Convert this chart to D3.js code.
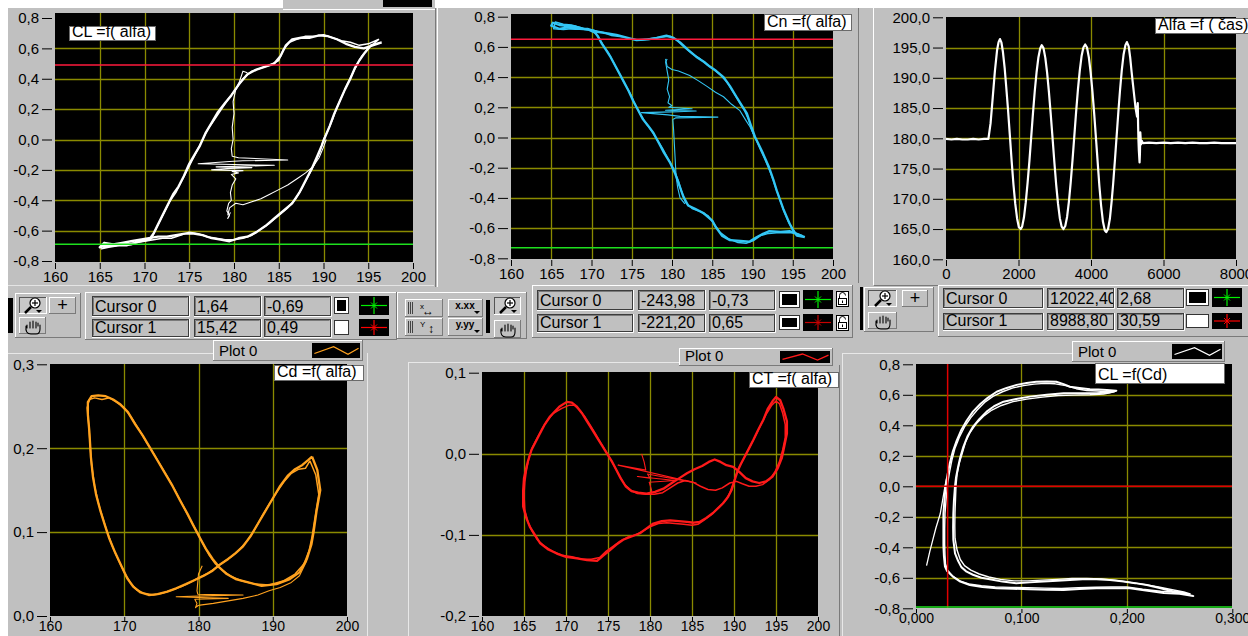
<!DOCTYPE html>
<html><head><meta charset="utf-8">
<script src="https://cdn.jsdelivr.net/npm/d3@7"></script>
<style>
html,body{margin:0;padding:0;background:#fff;overflow:hidden;}
svg text{font-family:"Liberation Sans",Arial,sans-serif;}
</style></head><body><svg id="c" width="1248" height="636"></svg>
<script>
// ---------- tick values ----------
const alfaTicks5 = [160,165,170,175,180,185,190,195,200];
const alfaTicks10 = [160,170,180,190,200];
const clTicks = [-0.8,-0.6,-0.4,-0.2,0,0.2,0.4,0.6,0.8];
const timeTicks = [0,2000,4000,6000,8000];
const alfaValueTicks = [160,165,170,175,180,185,190,195,200];
const cdTicks = [0,0.1,0.2,0.3];
const ctTicks = [-0.2,-0.1,0,0.1];
const cdAxisTicks = [0,0.1,0.2,0.3];

// ---------- cursor read-outs ----------
const cursorNames = ["Cursor 0","Cursor 1"];
const clCursorX = [1.64, 15.42], clCursorY = [-0.69, 0.49];
const cnCursorX = [-243.98, -221.20], cnCursorY = [-0.73, 0.65];
const alfaCursorX = [12022.40, 8988.80], alfaCursorY = [2.68, 30.59];
const clCdCursorX = [0.03], clCdCursorY = [-0.8, 0.0];

// ---------- CL = f(alfa) ----------
const clCycleA = [[196.5,0.64],[195.5,0.62],[194.5,0.60],[193.5,0.61],[192.5,0.63],[191.5,0.66],[190.5,0.68],[189.5,0.685],[188.5,0.67],[187.5,0.67],[186.5,0.66],[185.8,0.62],[185.2,0.55],[184.5,0.50],[183.5,0.48],[182.5,0.46],[181.5,0.43],[180.5,0.36],[179.7,0.29],[179,0.24],[178.2,0.18],[177.5,0.11],[176.8,0.04],[176.2,-0.04],[175.6,-0.10],[175,-0.16],[174.4,-0.24],[173.8,-0.31],[173.2,-0.36],[172.6,-0.43],[172,-0.50],[171.5,-0.56],[171,-0.62],[170.5,-0.66],[169.5,-0.67],[168.5,-0.69],[167.5,-0.69],[166.5,-0.70],[165.5,-0.70],[165,-0.71],[165.5,-0.68],[166.5,-0.69],[167.5,-0.68],[168.5,-0.67],[169.5,-0.66],[170.5,-0.65],[171.5,-0.64],[172.5,-0.64],[173.5,-0.63],[174.5,-0.62],[175.5,-0.62],[176.5,-0.63],[177.5,-0.65],[178.5,-0.66],[179.5,-0.67],[180.5,-0.65],[181.5,-0.64],[182.5,-0.61],[183.5,-0.57],[184.5,-0.52],[185.5,-0.47],[186.5,-0.42],[187.3,-0.35],[188,-0.27],[188.7,-0.19],[189.3,-0.11],[189.8,-0.04],[190.2,0.02],[190.7,0.09],[191.2,0.17],[191.8,0.25],[192.4,0.33],[193,0.40],[193.5,0.47],[194,0.52],[194.6,0.57],[195.3,0.62],[196.5,0.64]];
const clCycleB = [[196.2,0.66],[195,0.63],[194,0.62],[193,0.64],[192,0.65],[191,0.67],[190,0.69],[189,0.68],[188,0.68],[187,0.66],[186.2,0.64],[185.5,0.59],[185,0.52],[184,0.49],[183,0.47],[182,0.45],[181,0.40],[180.2,0.33],[179.4,0.27],[178.6,0.2],[177.8,0.13],[177.1,0.07],[176.5,0.0],[175.9,-0.07],[175.3,-0.14],[174.7,-0.21],[174.1,-0.28],[173.5,-0.35],[172.9,-0.4],[172.3,-0.47],[171.8,-0.53],[171.2,-0.6],[170.8,-0.65],[170,-0.67],[169,-0.68],[168,-0.70],[167,-0.70],[166,-0.71],[165.2,-0.72],[165.8,-0.70],[167,-0.70],[168,-0.69],[169,-0.68],[170,-0.67],[171,-0.66],[172,-0.65],[173,-0.65],[174,-0.63],[175,-0.61],[176,-0.62],[177,-0.64],[178,-0.65],[179,-0.66],[180,-0.66],[181,-0.65],[182,-0.63],[183,-0.59],[184,-0.55],[185,-0.50],[186,-0.45],[186.9,-0.39],[187.6,-0.32],[188.3,-0.24],[189,-0.16],[189.6,-0.08],[190,0.0],[190.5,0.06],[191,0.13],[191.5,0.21],[192.1,0.29],[192.7,0.37],[193.3,0.44],[193.8,0.5],[194.3,0.55],[195,0.6],[195.8,0.64],[196.2,0.66]];
const clStart = [[179.3,-0.5],[179.5,-0.45],[180.2,-0.42],[181,-0.43],[182,-0.41],[183,-0.39],[184,-0.36],[185,-0.33],[186,-0.3],[187,-0.26],[188,-0.22],[188.8,-0.18],[189.5,-0.12],[190,-0.05],[190.3,0.0]];
const clEnd = [[181.5,0.44],[181,0.45],[180.6,0.38],[180.2,0.33],[179.9,0.25],[180,0.17],[179.8,0.08],[179.9,0.0],[179.7,-0.06],[179.8,-0.11],[180.5,-0.12],[186,-0.135],[181,-0.14],[179.5,-0.145],[176,-0.16],[180,-0.165],[184.5,-0.17],[178,-0.18],[182,-0.185],[179.6,-0.19],[177.5,-0.2],[181,-0.205],[179.8,-0.21],[180.5,-0.22],[179.7,-0.23],[180.2,-0.26],[179.8,-0.3],[179.6,-0.35],[179.7,-0.4],[179.4,-0.42],[179.2,-0.47],[179.5,-0.5],[179.3,-0.52],[179.6,-0.48]];

// ---------- Cn = f(alfa) ----------
const cnCycleA = [[196.5,-0.66],[195.5,-0.64],[194.6,-0.62],[193.5,-0.625],[192.1,-0.62],[191.2,-0.64],[190.5,-0.66],[189.6,-0.69],[188.5,-0.685],[187.2,-0.68],[186.2,-0.65],[185.4,-0.59],[185,-0.55],[183.9,-0.5],[182.8,-0.47],[182,-0.45],[181.4,-0.39],[181,-0.33],[180.4,-0.24],[179.8,-0.17],[179,-0.1],[178.4,-0.04],[177.7,0.03],[177,0.08],[176.4,0.12],[175.7,0.19],[175.2,0.24],[174.6,0.31],[174,0.37],[173.5,0.42],[173,0.47],[172.4,0.53],[171.8,0.58],[171.3,0.62],[170.8,0.67],[170.2,0.71],[169,0.72],[168,0.735],[167,0.74],[166,0.745],[165.2,0.76],[165,0.74],[166,0.72],[167,0.73],[168,0.72],[169.5,0.72],[170.7,0.70],[172,0.69],[173.1,0.68],[174.5,0.66],[175.6,0.645],[177,0.65],[178.1,0.66],[179.3,0.675],[180.2,0.66],[181,0.63],[182,0.58],[183,0.535],[184,0.5],[184.7,0.47],[185.5,0.44],[186.4,0.4],[187.2,0.34],[188,0.27],[188.7,0.21],[189.3,0.16],[189.8,0.08],[190.3,0.005],[190.8,-0.05],[191.3,-0.105],[192,-0.19],[192.6,-0.28],[193,-0.35],[193.4,-0.41],[193.8,-0.47],[194.2,-0.52],[194.6,-0.57],[195,-0.61],[195.5,-0.65],[196.5,-0.66]];
const cnCycleB = [[196.2,-0.65],[195.2,-0.63],[194.2,-0.63],[193,-0.63],[192,-0.635],[191,-0.65],[190.2,-0.68],[189.2,-0.7],[188.2,-0.695],[187,-0.67],[186,-0.63],[185.2,-0.57],[184.5,-0.52],[183.5,-0.49],[182.5,-0.47],[181.7,-0.43],[181.2,-0.36],[180.8,-0.29],[180.2,-0.21],[179.5,-0.14],[178.8,-0.07],[178.1,-0.01],[177.4,0.05],[176.7,0.1],[176.1,0.15],[175.5,0.21],[174.9,0.28],[174.3,0.34],[173.8,0.39],[173.2,0.45],[172.7,0.5],[172.1,0.56],[171.6,0.6],[171,0.65],[170.5,0.69],[169.5,0.715],[168.5,0.73],[167.5,0.745],[166.5,0.75],[165.5,0.765],[165.3,0.72],[166.5,0.715],[167.5,0.72],[169,0.715],[170.2,0.71],[171.5,0.695],[172.5,0.675],[174,0.665],[175,0.65],[176.2,0.645],[177.5,0.655],[178.7,0.665],[179.8,0.67],[180.6,0.645],[181.5,0.6],[182.5,0.555],[183.5,0.52],[184.3,0.485],[185.1,0.455],[185.9,0.42],[186.8,0.37],[187.6,0.3],[188.3,0.24],[189,0.18],[189.5,0.12],[190,0.04],[190.5,-0.02],[191,-0.08],[191.6,-0.15],[192.3,-0.24],[192.8,-0.32],[193.2,-0.38],[193.6,-0.44],[194,-0.5],[194.4,-0.55],[194.8,-0.59],[195.3,-0.63],[196.2,-0.65]];
const cnStart = [[179.2,0.52],[179.4,0.47],[180,0.45],[180.8,0.44],[182.2,0.41],[183.3,0.375],[184.3,0.34],[185.4,0.3],[186.4,0.27],[187.4,0.22],[188.4,0.18],[189.1,0.12],[189.7,0.07],[190.3,0.0]];
const cnEnd = [[181.6,-0.44],[181,-0.4],[180.7,-0.33],[180.5,-0.25],[180.4,-0.15],[180.3,-0.05],[180.2,0.05],[180.1,0.12],[180.5,0.13],[185.7,0.135],[181,0.14],[179.5,0.15],[176.2,0.165],[180,0.17],[183,0.175],[179.2,0.18],[182.5,0.19],[179.6,0.2],[180,0.21],[179.5,0.23],[179.7,0.27],[179.4,0.32],[179.6,0.38],[179.4,0.44],[179.2,0.5],[179.4,0.52]];

// ---------- Alfa = f(time) ----------
const alfaSeries = [[0,179.9],[150,179.8],[300,179.9],[450,179.8],[600,179.8],[750,179.9],[900,179.8],[1050,179.9],[1170,179.9],[1230,182.5],[1290,186.8],[1350,191.2],[1410,194.6],[1450,195.9],[1490,196.4],[1530,195.8],[1570,194.3],[1620,191.5],[1660,188.6],[1710,184.8],[1760,180.6],[1810,176.3],[1860,172.4],[1910,169.2],[1960,166.8],[2010,165.3],[2060,165.0],[2100,165.4],[2150,166.9],[2200,169.4],[2250,172.6],[2300,176.2],[2350,180.2],[2400,184.2],[2450,187.9],[2500,191.0],[2550,193.4],[2600,194.9],[2640,195.4],[2690,194.9],[2740,193.3],[2790,190.8],[2840,187.6],[2890,183.9],[2940,180.0],[2990,176.0],[3040,172.3],[3090,169.2],[3140,166.8],[3190,165.4],[3240,165.0],[3290,165.5],[3340,167.0],[3390,169.5],[3440,172.7],[3490,176.4],[3540,180.4],[3590,184.4],[3640,188.1],[3690,191.2],[3740,193.6],[3790,195.0],[3840,195.5],[3890,195.0],[3940,193.4],[3990,190.9],[4040,187.7],[4090,183.9],[4130,180.6],[4180,176.4],[4230,172.2],[4280,168.8],[4330,166.2],[4380,164.8],[4420,164.5],[4470,165.0],[4520,166.7],[4570,169.6],[4610,172.4],[4660,176.4],[4710,180.6],[4760,184.8],[4800,187.9],[4850,191.3],[4900,193.9],[4950,195.4],[4990,195.9],[5040,195.2],[5080,193.4],[5120,191.0],[5160,188.8],[5200,186.6],[5230,185.0],[5270,183.6],[5290,185.8],[5300,182.0],[5310,179.5],[5320,178.0],[5340,176.0],[5350,177.5],[5360,181.0],[5380,179.0],[5400,179.6],[5430,179.2],[5600,179.3],[5800,179.2],[6000,179.3],[6200,179.2],[6400,179.3],[6600,179.2],[6800,179.3],[7000,179.2],[7200,179.2],[7400,179.3],[7600,179.2],[7800,179.2],[8000,179.2]];

// ---------- Cd = f(alfa) ----------
const cdCycleA = [[195.3,0.19],[196,0.174],[196.4,0.15],[195.9,0.125],[195.5,0.1],[195.2,0.085],[194.6,0.068],[193.6,0.052],[192.3,0.044],[190.5,0.038],[188.5,0.036],[186.7,0.04],[185,0.044],[183.8,0.05],[182.8,0.058],[181.9,0.068],[181,0.08],[180.2,0.093],[179.3,0.108],[178.5,0.122],[177.5,0.138],[176.5,0.155],[175.5,0.17],[174.5,0.185],[173.5,0.2],[172.5,0.215],[171.5,0.228],[170.5,0.243],[169.5,0.252],[168.5,0.258],[167.5,0.262],[166.5,0.263],[165.6,0.262],[165.1,0.255],[165.1,0.24],[165.3,0.22],[165.5,0.19],[165.8,0.165],[166.2,0.145],[166.8,0.125],[167.4,0.108],[168,0.092],[168.8,0.075],[169.6,0.06],[170.4,0.045],[171.2,0.035],[172.2,0.028],[173.3,0.025],[174.5,0.026],[175.8,0.029],[177,0.033],[178.3,0.038],[179.5,0.043],[180.7,0.048],[181.9,0.054],[183,0.062],[184,0.068],[185,0.075],[186,0.083],[187,0.095],[188,0.11],[189,0.125],[190,0.14],[191,0.155],[192,0.167],[193,0.175],[194,0.18],[194.8,0.186],[195.3,0.19]];
const cdCycleB = [[195,0.185],[195.8,0.168],[196.2,0.145],[195.7,0.118],[195.3,0.095],[194.9,0.078],[194.2,0.062],[193,0.05],[191.5,0.042],[189.5,0.037],[187.6,0.038],[185.8,0.042],[184.4,0.047],[183.3,0.054],[182.3,0.062],[181.4,0.073],[180.6,0.086],[179.8,0.1],[179,0.113],[178,0.13],[177,0.147],[176,0.163],[175,0.178],[174,0.193],[173,0.207],[172,0.222],[171,0.236],[170,0.248],[169,0.255],[168,0.26],[167,0.258],[166,0.26],[165.3,0.258],[165,0.248],[165.2,0.23],[165.4,0.205],[165.6,0.18],[166,0.155],[166.5,0.135],[167.1,0.117],[167.7,0.1],[168.4,0.083],[169.2,0.067],[170,0.052],[170.8,0.04],[171.7,0.031],[172.7,0.027],[173.9,0.025],[175.1,0.027],[176.4,0.031],[177.7,0.035],[178.9,0.04],[180.1,0.046],[181.3,0.051],[182.4,0.058],[183.5,0.065],[184.5,0.071],[185.5,0.079],[186.5,0.089],[187.5,0.102],[188.5,0.118],[189.5,0.133],[190.5,0.147],[191.5,0.16],[192.5,0.17],[193.5,0.175],[194.4,0.176],[195,0.185]];
const cdStart = [[179.8,0.012],[180.2,0.013],[182,0.015],[184,0.018],[186,0.021],[188,0.025],[189.5,0.03],[191,0.034],[192.5,0.04],[193.6,0.048],[194.6,0.066]];
const cdEnd = [[180.5,0.06],[180,0.05],[179.9,0.04],[179.8,0.03],[179.9,0.026],[182,0.0255],[186,0.025],[181,0.024],[177,0.023],[180,0.022],[184,0.021],[179.5,0.02],[179.8,0.015],[179.6,0.01],[179.9,0.012]];

// ---------- CT = f(alfa) ----------
const ctCycleA = [[170.1,0.064],[169.2,0.058],[168.1,0.046],[167.4,0.035],[166.9,0.025],[166.3,0.013],[165.9,0.005],[165.5,-0.008],[165.3,-0.016],[165,-0.03],[164.9,-0.045],[164.9,-0.065],[165.3,-0.08],[165.7,-0.09],[166.3,-0.1],[166.9,-0.11],[167.9,-0.118],[168.9,-0.123],[170,-0.127],[171.3,-0.129],[172.5,-0.131],[173.7,-0.132],[174.5,-0.125],[175.2,-0.119],[176,-0.112],[176.8,-0.106],[177.8,-0.102],[178.8,-0.098],[179.6,-0.092],[180.4,-0.086],[181.4,-0.083],[182.4,-0.082],[183.4,-0.083],[184.4,-0.084],[185.2,-0.085],[185.9,-0.084],[186.7,-0.079],[187.5,-0.073],[188.2,-0.066],[188.7,-0.061],[189.3,-0.053],[189.7,-0.045],[190.1,-0.032],[190.4,-0.022],[190.8,-0.013],[191.3,-0.003],[191.8,0.007],[192.3,0.017],[192.9,0.03],[193.5,0.042],[194,0.055],[194.6,0.065],[195,0.07],[195.5,0.066],[195.9,0.055],[196.3,0.04],[196.3,0.025],[196,0.01],[195.7,-0.005],[195.2,-0.018],[194.6,-0.028],[193.8,-0.034],[193,-0.036],[192.2,-0.034],[191.4,-0.03],[190.6,-0.022],[189.9,-0.016],[189.1,-0.014],[188.4,-0.01],[187.7,-0.007],[187,-0.01],[186.2,-0.015],[185.3,-0.019],[184.4,-0.024],[183.5,-0.03],[182.6,-0.036],[181.6,-0.043],[180.6,-0.047],[179.6,-0.049],[178.6,-0.048],[177.8,-0.046],[177.1,-0.04],[176.5,-0.03],[176,-0.02],[175.5,-0.01],[174.9,0.0],[174.3,0.01],[173.7,0.02],[173.1,0.03],[172.5,0.04],[171.9,0.05],[171.3,0.058],[170.7,0.063],[170.1,0.064]];
const ctCycleB = [[170.4,0.06],[169.5,0.056],[168.5,0.05],[167.7,0.04],[167.1,0.03],[166.5,0.018],[166,0.008],[165.6,-0.004],[165.3,-0.02],[165.1,-0.035],[165,-0.05],[165.1,-0.07],[165.5,-0.085],[166,-0.096],[166.6,-0.106],[167.4,-0.114],[168.4,-0.12],[169.5,-0.125],[170.7,-0.127],[171.9,-0.13],[173,-0.13],[174,-0.128],[174.8,-0.12],[175.6,-0.114],[176.4,-0.108],[177.3,-0.103],[178.3,-0.1],[179.2,-0.095],[180,-0.09],[181,-0.086],[182,-0.085],[183,-0.086],[184,-0.087],[185,-0.088],[185.7,-0.087],[186.4,-0.082],[187.2,-0.076],[187.9,-0.069],[188.5,-0.063],[189.1,-0.056],[189.5,-0.048],[189.9,-0.037],[190.2,-0.027],[190.6,-0.017],[191.1,-0.007],[191.6,0.003],[192.1,0.013],[192.7,0.025],[193.3,0.038],[193.9,0.05],[194.5,0.06],[195,0.065],[195.4,0.062],[195.8,0.05],[196.1,0.036],[196.1,0.02],[195.8,0.005],[195.4,-0.01],[194.9,-0.022],[194.2,-0.032],[193.4,-0.038],[192.6,-0.04],[191.8,-0.04],[191,-0.037],[190.3,-0.034],[189.5,-0.036],[188.6,-0.042],[187.8,-0.045],[186.9,-0.044],[186,-0.04],[185.1,-0.035],[184.2,-0.033],[183.3,-0.036],[182.4,-0.042],[181.5,-0.048],[180.5,-0.05],[179.5,-0.05],[178.5,-0.049],[177.7,-0.045],[177,-0.038],[176.4,-0.028],[175.9,-0.018],[175.3,-0.007],[174.7,0.004],[174.1,0.014],[173.5,0.025],[172.9,0.035],[172.3,0.045],[171.7,0.053],[171,0.06],[170.4,0.06]];
const ctEnd = [[179,0.0],[179.3,-0.01],[179.5,-0.02],[176.2,-0.014],[185.5,-0.036],[179.7,-0.025],[180,-0.03],[178.5,-0.028],[183,-0.033],[179.9,-0.035],[180.2,-0.045],[180.1,-0.05]];

// ---------- CL = f(Cd) ----------
const clCdCycleA = [[0.028,0.0],[0.030,0.08],[0.032,0.15],[0.035,0.23],[0.0386,0.3],[0.043,0.37],[0.048,0.43],[0.054,0.49],[0.061,0.54],[0.068,0.58],[0.0765,0.62],[0.086,0.645],[0.0955,0.665],[0.105,0.678],[0.114,0.686],[0.124,0.688],[0.133,0.686],[0.14,0.67],[0.146,0.653],[0.155,0.645],[0.165,0.636],[0.173,0.634],[0.181,0.632],[0.19,0.627],[0.183,0.615],[0.171,0.61],[0.155,0.61],[0.14,0.61],[0.124,0.6],[0.108,0.588],[0.095,0.572],[0.083,0.555],[0.074,0.525],[0.067,0.49],[0.06,0.44],[0.054,0.39],[0.049,0.33],[0.045,0.26],[0.042,0.19],[0.04,0.13],[0.038,0.06],[0.037,0.0],[0.036,-0.09],[0.0354,-0.18],[0.0352,-0.27],[0.0354,-0.35],[0.037,-0.44],[0.04,-0.49],[0.043,-0.53],[0.048,-0.56],[0.054,-0.58],[0.062,-0.6],[0.07,-0.61],[0.082,-0.625],[0.095,-0.636],[0.108,-0.63],[0.121,-0.625],[0.134,-0.62],[0.146,-0.614],[0.158,-0.61],[0.171,-0.61],[0.184,-0.615],[0.197,-0.625],[0.208,-0.635],[0.219,-0.647],[0.232,-0.668],[0.244,-0.69],[0.255,-0.705],[0.263,-0.72],[0.25,-0.705],[0.235,-0.7],[0.218,-0.683],[0.203,-0.669],[0.187,-0.668],[0.171,-0.669],[0.155,-0.673],[0.14,-0.68],[0.124,-0.678],[0.108,-0.675],[0.092,-0.672],[0.0765,-0.669],[0.063,-0.66],[0.051,-0.647],[0.042,-0.625],[0.035,-0.592],[0.0295,-0.555],[0.0275,-0.527],[0.0265,-0.46],[0.026,-0.39],[0.026,-0.28],[0.026,-0.18],[0.027,-0.09],[0.028,0.0]];
const clCdCycleB = [[0.03,0.02],[0.032,0.1],[0.034,0.17],[0.037,0.25],[0.041,0.32],[0.046,0.39],[0.052,0.45],[0.058,0.5],[0.065,0.55],[0.073,0.59],[0.082,0.62],[0.092,0.645],[0.102,0.66],[0.112,0.67],[0.122,0.675],[0.132,0.672],[0.142,0.66],[0.152,0.64],[0.162,0.628],[0.172,0.625],[0.182,0.62],[0.188,0.62],[0.178,0.605],[0.165,0.6],[0.15,0.598],[0.135,0.595],[0.12,0.585],[0.105,0.572],[0.092,0.555],[0.081,0.53],[0.072,0.5],[0.064,0.46],[0.057,0.41],[0.051,0.35],[0.047,0.29],[0.044,0.22],[0.041,0.15],[0.039,0.08],[0.038,0.01],[0.0375,-0.08],[0.037,-0.17],[0.0368,-0.26],[0.037,-0.34],[0.039,-0.42],[0.042,-0.48],[0.046,-0.52],[0.052,-0.55],[0.06,-0.575],[0.069,-0.595],[0.08,-0.61],[0.093,-0.62],[0.106,-0.62],[0.12,-0.615],[0.134,-0.61],[0.148,-0.605],[0.162,-0.605],[0.176,-0.607],[0.19,-0.617],[0.203,-0.63],[0.216,-0.643],[0.23,-0.66],[0.243,-0.678],[0.254,-0.693],[0.26,-0.705],[0.248,-0.695],[0.232,-0.688],[0.215,-0.675],[0.2,-0.66],[0.185,-0.66],[0.17,-0.662],[0.154,-0.665],[0.138,-0.67],[0.122,-0.668],[0.106,-0.665],[0.09,-0.663],[0.075,-0.66],[0.062,-0.652],[0.05,-0.64],[0.041,-0.618],[0.034,-0.585],[0.03,-0.55],[0.028,-0.51],[0.0275,-0.45],[0.0272,-0.38],[0.0272,-0.28],[0.0275,-0.18],[0.0285,-0.09],[0.03,0.02]];
const clCdStart = [[0.010,-0.52],[0.011,-0.49],[0.013,-0.43],[0.016,-0.35],[0.019,-0.27],[0.023,-0.18],[0.025,-0.1],[0.0275,0.0],[0.029,0.05]];

// ---------- styling ----------
const GRAY = "#c0c0c0", GRID = "#8a8a00";
const WHITE = "#ffffff", CYAN = "#33c6f4", ORANGE = "#ffa21f", RED = "#ff1a1a";
const CUR_GREEN = "#1ee01e", CUR_RED = "#ff1a3c";
const FONT = '"Liberation Sans", Arial, sans-serif';

const loc = d3.formatLocale({decimal: ",", thousands: "", grouping: [3], currency: ["", ""], minus: "-"});
const f0 = loc.format("d"), f1 = loc.format(".1f"), f2 = loc.format(".2f"), f3 = loc.format(".3f");

const svg = d3.select("#c");

function rect(g, x, y, w, h, fill, stroke, sw) {
  const r = g.append("rect").attr("x", x).attr("y", y).attr("width", w).attr("height", h)
    .attr("fill", fill || "none");
  if (stroke) r.attr("stroke", stroke).attr("stroke-width", sw || 1);
  return r;
}
function line(g, x1, y1, x2, y2, c, w) {
  return g.append("line").attr("x1", x1).attr("y1", y1).attr("x2", x2).attr("y2", y2)
    .attr("stroke", c).attr("stroke-width", w || 1);
}
function text(g, x, y, s, size, anchor, fam) {
  return g.append("text").attr("x", x).attr("y", y).text(s)
    .attr("font-size", size).attr("text-anchor", anchor || "start")
    .attr("font-family", fam || FONT).attr("fill", "#000");
}
function bevel(g, x, y, w, h, raised, fill) {
  rect(g, x, y, w, h, fill || GRAY);
  const tl = raised ? "#ffffff" : "#555555", br = raised ? "#7a7a7a" : "#ffffff";
  line(g, x, y + 0.5, x + w, y + 0.5, tl);
  line(g, x + 0.5, y, x + 0.5, y + h, tl);
  line(g, x, y + h - 0.5, x + w, y + h - 0.5, br);
  line(g, x + w - 0.5, y, x + w - 0.5, y + h, br);
}
function field(g, x, y, w, h) {
  rect(g, x + 0.5, y + 0.5, w, h, GRAY, "#3c3c3c", 1);
  line(g, x + 1.5, y + 1.5, x + w - 0.5, y + 1.5, "#7a7a7a");
  line(g, x + 1.5, y + 1.5, x + 1.5, y + h - 0.5, "#7a7a7a");
  line(g, x, y + h + 1.5, x + w + 1.5, y + h + 1.5, "#ffffff");
  line(g, x + w + 1.5, y, x + w + 1.5, y + h + 1.5, "#ffffff");
}

// ---------- page background ----------
rect(svg, 0, 0, 1248, 636, "#ffffff");
rect(svg, 8, 8, 1240, 628, GRAY);
rect(svg, 283, 0, 152, 10, GRAY);
rect(svg, 383, 0, 49, 7, "#000");
line(svg, 283, 9.5, 435, 9.5, "#ffffff");

// panel frames
const frames = svg.append("g");
line(frames, 435.5, 8, 435.5, 287, "#7a7a7a");
line(frames, 437.5, 8, 437.5, 287, "#ffffff");
line(frames, 858.5, 8, 858.5, 283, "#7a7a7a");
line(frames, 873.5, 8, 873.5, 285, "#ffffff");
line(frames, 8, 285.5, 434, 285.5, "#e4e4e4");
line(frames, 874, 285.5, 1248, 285.5, "#7a7a7a");
line(frames, 8, 353.5, 213, 353.5, "#e8e8e8");
line(frames, 367.5, 353, 367.5, 636, "#e8e8e8");
line(frames, 408.5, 362, 408.5, 636, "#e8e8e8");
line(frames, 408, 362.5, 679, 362.5, "#e8e8e8");
line(frames, 839.5, 365, 839.5, 636, "#7a7a7a");
line(frames, 842.5, 353, 842.5, 636, "#e8e8e8");
line(frames, 842, 353.5, 1072, 353.5, "#e8e8e8");

// ---------- generic plot panel ----------
let clipId = 0;
function panel(o) {
  const g = svg.append("g");
  const [bx0, by0, bx1, by1] = o.box;
  const x = d3.scaleLinear().domain(o.xd).range(o.xr);
  const y = d3.scaleLinear().domain(o.yd).range(o.yr);
  rect(g, bx0, by0, bx1 - bx0, by1 - by0, "#000");

  const gx = o.xt.filter(v => v > Math.min(...o.xd) && v < Math.max(...o.xd));
  const gy = o.yt.filter(v => v > Math.min(...o.yd) && v < Math.max(...o.yd));
  g.append("g").selectAll("line").data(gx).join("line")
    .attr("x1", d => Math.round(x(d)) + 0.5).attr("x2", d => Math.round(x(d)) + 0.5)
    .attr("y1", by0).attr("y2", by1).attr("stroke", GRID).attr("stroke-width", 1.3);
  g.append("g").selectAll("line").data(gy).join("line")
    .attr("y1", d => Math.round(y(d)) + 0.5).attr("y2", d => Math.round(y(d)) + 0.5)
    .attr("x1", bx0).attr("x2", bx1).attr("stroke", GRID).attr("stroke-width", 1.3);

  const id = "clip" + (clipId++);
  g.append("clipPath").attr("id", id).append("rect")
    .attr("x", bx0).attr("y", by0).attr("width", bx1 - bx0).attr("height", by1 - by0);
  const plot = g.append("g").attr("clip-path", `url(#${id})`);
  const path = d3.line().x(d => x(d[0])).y(d => y(d[1]));
  (o.series || []).forEach(s => {
    plot.append("path").attr("d", path(s.data)).attr("fill", "none")
      .attr("stroke", s.color).attr("stroke-width", s.w || 1.5)
      .attr("stroke-linejoin", "round");
  });
  (o.cursors || []).forEach(c => {
    if (c.dir === "h") {
      const yy = y(c.v);
      if (yy >= by0 - 1 && yy <= by1 + 1)
        line(plot, bx0, Math.min(yy, by1 - 1), bx1, Math.min(yy, by1 - 1), c.color, 1.5);
    } else {
      const xx = x(c.v);
      if (xx >= bx0 && xx <= bx1) line(plot, xx, by0, xx, by1, c.color, 1.5);
    }
  });

  const low = by1 > 600;
  const ax = g.append("g").attr("transform", `translate(0,${by1 + 1})`)
    .call(d3.axisBottom(x).tickValues(o.xt).tickFormat(o.xf).tickSize(low ? 4 : 6).tickPadding(low ? 0 : 2));
  const ay = g.append("g").attr("transform", `translate(${bx0 - 3},0)`)
    .call(d3.axisLeft(y).tickValues(o.yt).tickFormat(o.yf).tickSize(10).tickPadding(3));
  [ax, ay].forEach(a => {
    a.select(".domain").remove();
    a.attr("font-family", FONT).attr("font-size", 15);
    a.selectAll("line").attr("stroke", "#000");
    a.selectAll("text").attr("fill", "#000");
  });
  if (low) ax.attr("font-size", 14);

  if (o.label) {
    const L = o.label;
    rect(g, L.x + 0.5, L.y + 0.5, L.w, L.h, "#ffffff", "#6a6a6a", 1);
    text(g, L.x + 3, L.y + L.h - 3, L.text, 16);
  }
  return {g, x, y};
}

// ---------- the six graphs ----------
panel({
  box: [55, 13, 413, 262], xd: [160, 200], xr: [55, 413], yd: [-0.8, 0.8], yr: [261, 18],
  xt: alfaTicks5, xf: f0, yt: clTicks, yf: f1,
  series: [
    {data: clCycleA, color: WHITE, w: 2.3},
    {data: clCycleB, color: WHITE, w: 1.5},
    {data: clStart, color: WHITE, w: 1.1},
    {data: clEnd, color: WHITE, w: 1.1}
  ],
  cursors: [{dir: "h", v: clCursorY[1], color: CUR_RED}, {dir: "h", v: clCursorY[0], color: CUR_GREEN}],
  label: {x: 69, y: 26, w: 86, h: 14, text: "CL =f( alfa)"}
});

panel({
  box: [511, 14, 833, 259], xd: [160, 200], xr: [511, 833], yd: [-0.8, 0.8], yr: [258.3, 16.7],
  xt: alfaTicks5, xf: f0, yt: clTicks, yf: f1,
  series: [
    {data: cnCycleA, color: CYAN, w: 2.3},
    {data: cnCycleB, color: CYAN, w: 1.5},
    {data: cnStart, color: CYAN, w: 1.1},
    {data: cnEnd, color: CYAN, w: 1.1}
  ],
  cursors: [{dir: "h", v: cnCursorY[1], color: CUR_RED}, {dir: "h", v: cnCursorY[0], color: CUR_GREEN}],
  label: {x: 764, y: 14, w: 87, h: 16, text: "Cn =f( alfa)"}
});

panel({
  box: [946, 17, 1236, 259], xd: [0, 8000], xr: [946, 1236], yd: [160, 200], yr: [259.3, 17.3],
  xt: timeTicks, xf: f0, yt: alfaValueTicks, yf: f1,
  series: [{data: alfaSeries, color: WHITE, w: 2.2}],
  cursors: [{dir: "h", v: alfaCursorY[0], color: CUR_GREEN}, {dir: "h", v: alfaCursorY[1], color: CUR_RED}],
  label: {x: 1155, y: 18, w: 100, h: 15, text: "Alfa =f ( čas)"}
});

panel({
  box: [50, 364, 347, 616], xd: [160, 200], xr: [50, 347], yd: [0, 0.3], yr: [616, 364.3],
  xt: alfaTicks10, xf: f0, yt: cdTicks, yf: f1,
  series: [
    {data: cdCycleA, color: ORANGE, w: 2.3},
    {data: cdCycleB, color: ORANGE, w: 1.5},
    {data: cdStart, color: ORANGE, w: 1.1},
    {data: cdEnd, color: ORANGE, w: 1.1}
  ],
  label: {x: 274, y: 365, w: 89, h: 15, text: "Cd =f( alfa)"}
});

panel({
  box: [482, 372, 818, 616], xd: [160, 200], xr: [482, 818], yd: [-0.2, 0.1], yr: [616, 372.7],
  xt: alfaTicks5, xf: f0, yt: ctTicks, yf: f1,
  series: [
    {data: ctCycleA, color: RED, w: 2.3},
    {data: ctCycleB, color: RED, w: 1.5},
    {data: ctEnd, color: RED, w: 1.1}
  ],
  label: {x: 749, y: 372, w: 89, h: 15, text: "CT =f( alfa)"}
});

panel({
  box: [916, 364, 1232, 608], xd: [0, 0.3], xr: [916, 1232.3], yd: [-0.8, 0.8], yr: [608.3, 364.3],
  xt: cdAxisTicks, xf: f3, yt: clTicks, yf: f1,
  series: [
    {data: clCdCycleA, color: WHITE, w: 2},
    {data: clCdCycleB, color: WHITE, w: 1.4},
    {data: clCdStart, color: WHITE, w: 1.3}
  ],
  cursors: [{dir: "v", v: clCdCursorX[0], color: "#e00000"}, {dir: "h", v: clCdCursorY[1], color: "#e00000"},
            {dir: "h", v: clCdCursorY[0], color: CUR_GREEN}],
  label: {x: 1095, y: 363, w: 129, h: 20, text: "CL =f(Cd)"}
});

// ---------- icons ----------
function magnifier(g, cx, cy) {
  line(g, cx - 2, cy + 2, cx - 8, cy + 8, "#000", 2.5);
  g.append("circle").attr("cx", cx + 2).attr("cy", cy - 2).attr("r", 5)
    .attr("fill", "#fff").attr("stroke", "#000").attr("stroke-width", 1.2);
  line(g, cx - 1, cy - 2, cx + 5, cy - 2, "#000", 1.2);
  line(g, cx + 2, cy - 5, cx + 2, cy + 1, "#000", 1.2);
  g.append("path").attr("d", `M${cx + 3},${cy + 5} h6 l-3,3 z`).attr("fill", "#000");
}
function hand(g, cx, cy) {
  g.append("path").attr("d",
    `M${cx - 6},${cy + 1} v-3 M${cx - 3},${cy + 1} v-6 M${cx},${cy + 1} v-7 M${cx + 3},${cy + 1} v-6 ` +
    `M${cx - 7},${cy - 1} q-1,8 5,8 h5 q4,0 4,-5 v-4 M${cx + 5},${cy - 1} v-3`)
    .attr("fill", "none").attr("stroke", "#000").attr("stroke-width", 1.1).attr("stroke-linecap", "round");
}
function crossBox(g, x, y, w, h, c) {
  rect(g, x, y, w, h, "#000");
  const cx = x + w / 2, cy = y + h / 2;
  line(g, x + 2, cy, x + w - 2, cy, c, 1.2);
  line(g, cx, y + 1, cx, y + h - 1, c, 1.2);
  line(g, cx - 3, cy - 3, cx + 3, cy + 3, c, 1);
  line(g, cx - 3, cy + 3, cx + 3, cy - 3, c, 1);
}
function square(g, x, y, w, h, inner) {
  rect(g, x + 0.5, y + 0.5, w, h, "#fff", "#333", 1);
  if (inner) rect(g, x + 3, y + 3, w - 5, h - 5, inner);
}
function lock(g, x, y) {
  rect(g, x + 0.5, y + 0.5, 12, 15, "#fff", "#000", 1);
  g.append("path").attr("d", `M${x + 3.5},${y + 7} v-2.5 a3,3 0 0 1 6,0`).attr("fill", "none")
    .attr("stroke", "#000").attr("stroke-width", 1);
  rect(g, x + 2.5, y + 7.5, 8, 6, "#fff", "#000", 1);
  line(g, x + 6.5, y + 9.5, x + 6.5, y + 12, "#000", 1);
}
function plotLegend(g, x, y, w, h, sw0, color) {
  bevel(g, x, y, w, h, true);
  text(g, x + 6, y + h - 5, "Plot 0", 15);
  const sx = x + sw0, sw = w - sw0 - 3, sy = y + 3, sh = h - 6;
  rect(g, sx, sy, sw, sh, "#000");
  g.append("polyline").attr("points",
    [[0.05, 0.7], [0.45, 0.25], [0.75, 0.75], [0.97, 0.35]].map(p => [sx + p[0] * sw, sy + p[1] * sh].join(",")).join(" "))
    .attr("fill", "none").attr("stroke", color).attr("stroke-width", 1.3);
}

// ---------- cursor read-out panels ----------
function cursorPanel(o) {
  const g = svg.append("g");
  bevel(g, o.frame[0], o.frame[1], o.frame[2], o.frame[3], true);
  o.rows.forEach((r, i) => {
    const [ry, rh] = r;
    field(g, o.cols.name[0], ry, o.cols.name[1] - o.cols.name[0], rh);
    text(g, o.cols.name[0] + 3, ry + rh - 3, cursorNames[i], 16);
    [[o.cols.v1, o.xs[i], o.fx], [o.cols.v2, o.ys[i], o.fy]].forEach(([c, v, f]) => {
      field(g, c[0], ry, c[1] - c[0], rh);
      const cid = "cc" + (clipId++);
      g.append("clipPath").attr("id", cid).append("rect")
        .attr("x", c[0] + 2).attr("y", ry).attr("width", c[1] - c[0] - 2).attr("height", rh);
      text(g.append("g").attr("clip-path", `url(#${cid})`), c[0] + 3, ry + rh - 3, f(v), 16);
    });
    square(g, o.cols.sq[0], ry + 1, o.cols.sq[1] - o.cols.sq[0], rh - 3, o.sqInner[i]);
    crossBox(g, o.cols.cross[0], ry, o.cols.cross[1] - o.cols.cross[0], rh, i === 0 ? "#00ee00" : o.red);
    if (o.cols.lock) lock(g, o.cols.lock[0], ry + 1);
  });
  return g;
}

const tools = svg.append("g");
// left tool group
bevel(tools, 15, 293, 66, 45, true);
rect(tools, 8, 298, 5, 35, "#000");
bevel(tools, 19, 297, 28, 17, false, "#c8c8c8");
magnifier(tools, 33, 305);
bevel(tools, 49, 297, 27, 17, true);
text(tools, 62.5, 311, "+", 18, "middle");
bevel(tools, 19, 317, 27, 17, true);
hand(tools, 33, 327);

cursorPanel({
  frame: [85, 292, 312, 48],
  rows: [[296, 19], [319, 17]],
  cols: {name: [92, 188], v1: [194, 260], v2: [264, 330], sq: [334, 348], cross: [359, 389]},
  xs: clCursorX, ys: clCursorY, fx: f2, fy: f2,
  sqInner: ["#000", null], red: "#ff0000"
});

// middle tool group
bevel(tools, 397, 292, 130, 47, true);
bevel(tools, 405, 299, 38, 18, true);
bevel(tools, 405, 318, 38, 18, true);
[[408, 302], [408, 321]].forEach(([x0, y0]) => {
  for (let k = 0; k < 3; k++) line(tools, x0 + k * 2 + 0.5, y0, x0 + k * 2 + 0.5, y0 + 12, "#444", 1);
});
text(tools, 420, 309, "x", 8, "start", "DejaVu Sans");
text(tools, 428, 315, "\u2194", 12, "middle", "DejaVu Sans");
text(tools, 420, 327, "Y", 8, "start", "DejaVu Sans");
text(tools, 431, 333, "\u2195", 12, "middle", "DejaVu Sans");
bevel(tools, 448, 299, 35, 18, true);
bevel(tools, 448, 318, 35, 18, true);
text(tools, 465, 309, "x.xx", 10, "middle", "DejaVu Sans Mono").attr("font-weight", "bold");
text(tools, 465, 328, "y.yy", 10, "middle", "DejaVu Sans Mono").attr("font-weight", "bold");
tools.append("path").attr("d", "M474,311 h6 l-3,3 z").attr("fill", "#000");
tools.append("path").attr("d", "M474,330 h6 l-3,3 z").attr("fill", "#000");
rect(tools, 486, 300, 4, 33, "#000");
bevel(tools, 494, 297, 27, 18, false, "#c8c8c8");
magnifier(tools, 508, 305);
bevel(tools, 494, 320, 27, 18, true);
hand(tools, 508, 330);

cursorPanel({
  frame: [532, 285, 321, 53],
  rows: [[290, 19], [314, 17]],
  cols: {name: [537, 632], v1: [638, 704], v2: [709, 774], sq: [779, 799], cross: [803, 833], lock: [836, 849]},
  xs: cnCursorX, ys: cnCursorY, fx: f2, fy: f2,
  sqInner: ["#000", "#000"], red: "#c80000"
});

// right tool group
rect(tools, 860, 287, 3, 43, "#000");
bevel(tools, 864, 287, 70, 45, true);
bevel(tools, 868, 290, 29, 17, false, "#c8c8c8");
magnifier(tools, 883, 298);
bevel(tools, 902, 290, 26, 17, true);
text(tools, 915, 304, "+", 18, "middle");
bevel(tools, 868, 312, 29, 17, true);
hand(tools, 883, 322);

cursorPanel({
  frame: [938, 285, 320, 52],
  rows: [[288, 19], [313, 16]],
  cols: {name: [943, 1042], v1: [1047, 1113], v2: [1117, 1183], sq: [1186, 1208], cross: [1212, 1242]},
  xs: alfaCursorX, ys: alfaCursorY, fx: f2, fy: f2,
  sqInner: ["#000", null], red: "#ff0000"
});
rect(tools, 1245, 288, 3, 19, "#000");
rect(tools, 1245, 313, 3, 16, "#000");

// plot legends
plotLegend(svg, 213, 340, 150, 21, 99, ORANGE);
plotLegend(svg, 679, 348, 154, 18, 101, RED);
plotLegend(svg, 1072, 341, 153, 21, 100, WHITE);
</script></body></html>
